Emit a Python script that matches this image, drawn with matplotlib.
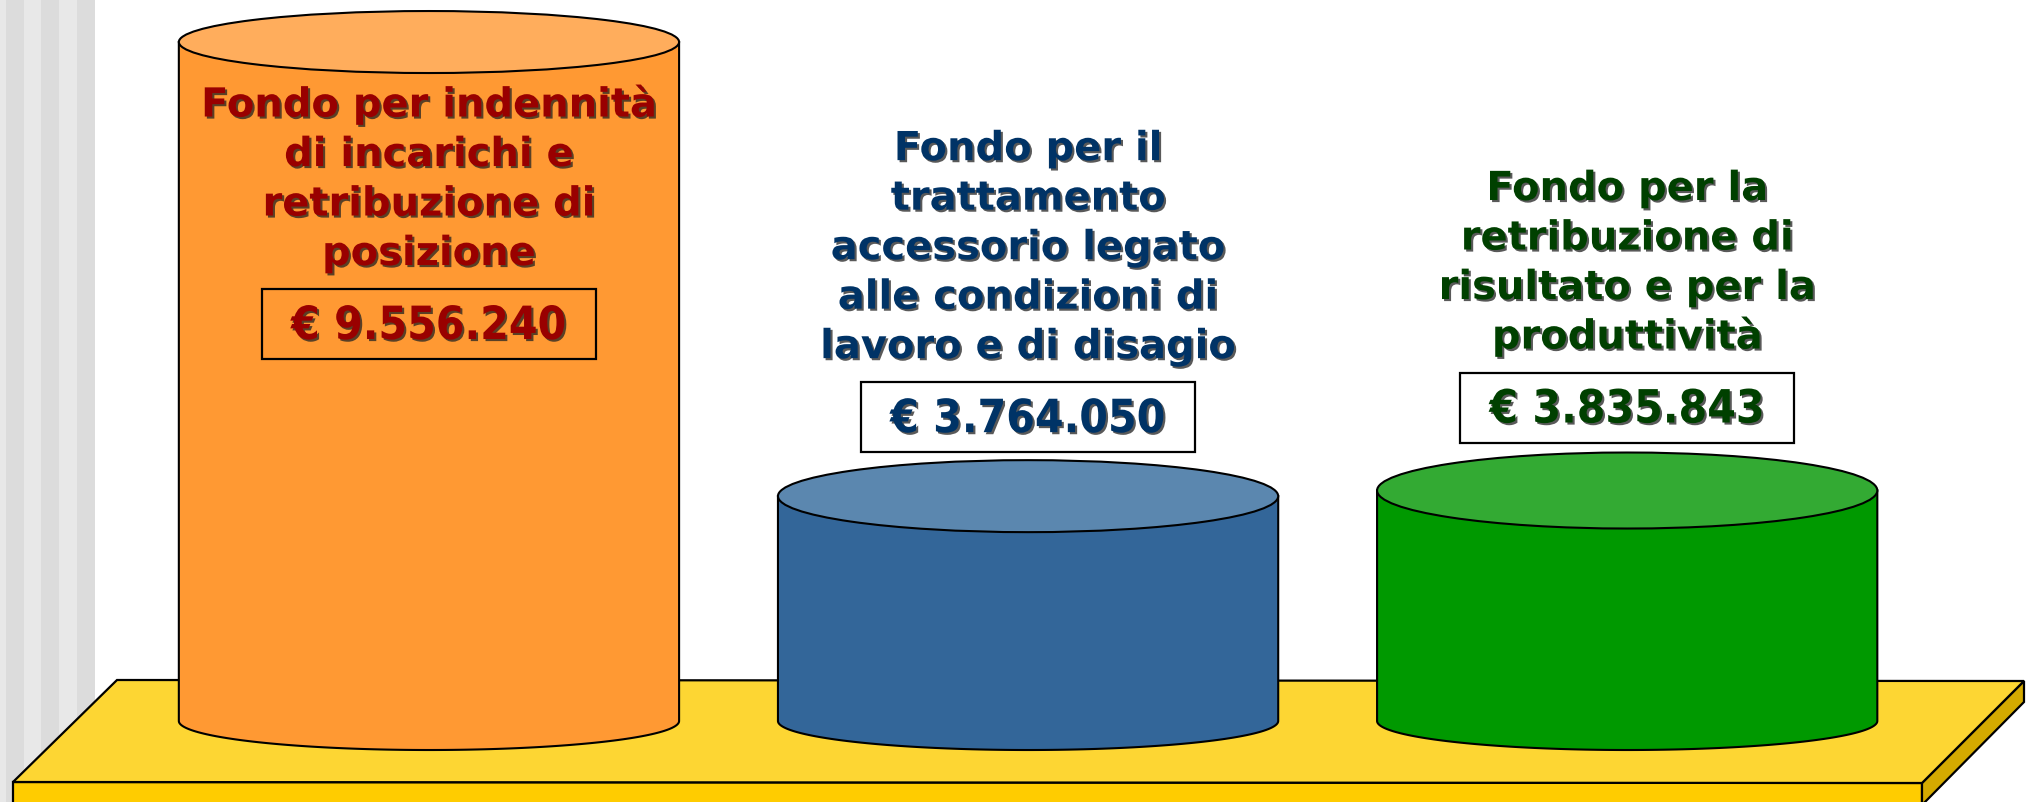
import numpy as np
import matplotlib
matplotlib.use('Agg')
import matplotlib.pyplot as plt
from matplotlib.patches import Polygon, Ellipse, Rectangle
import matplotlib.patheffects as pe

# data
labels = ['Fondo per indennità\ndi incarichi e\nretribuzione di\nposizione',
          'Fondo per il\ntrattamento\naccessorio legato\nalle condizioni di\nlavoro e di disagio',
          'Fondo per la\nretribuzione di\nrisultato e per la\nproduttività']
values = [9556240, 3764050, 3835843]

body_colors = ['#FF9933', '#336699', '#009900']
top_colors = ['#FFAD5C', '#5B87AF', '#33AA33']
text_colors = ['#990000', '#003366', '#004000']

W, H = 2031, 803
fig = plt.figure(figsize=(W / 100, H / 100), dpi=100)

# background layer in pixel coords
bg = fig.add_axes([0, 0, 1, 1])
bg.set_xlim(0, W)
bg.set_ylim(H, 0)
bg.axis('off')

bg.add_patch(Rectangle((0, 0), 94, H, color='#E8E8E8', lw=0))
for sx in [6, 41, 77]:
    bg.add_patch(Rectangle((sx, 0), 18, H, color='#DCDCDC', lw=0))

# floor slab
bg.add_patch(Polygon([(13, 783), (1922, 784), (1922, 820), (13, 820)], closed=True,
                     fc='#FFCC00', ec='black', lw=1.6))
bg.add_patch(Polygon([(1922, 784), (2024, 682), (2024, 703), (1922, 806)], closed=True,
                     fc='#D4AA00', ec='black', lw=1.6))
bg.add_patch(Polygon([(13, 783), (117, 681), (2024, 682), (1922, 784)], closed=True,
                     fc='#FDD633', ec='black', lw=1.6))

# data layer
ax = fig.add_axes([0, 0, 1, 1])
ax.set_xlim(-0.716, 2.674)
ax.set_ylim(-0.137e6, 10.105e6)
ax.axis('off')

base = 0.896e6
bar_w = 0.835
upp = (ax.get_ylim()[1] - ax.get_ylim()[0]) / H  # data units per pixel
top_hh = [31, 36, 38]
bot_hh = 29
box_dy = [-282, 79, 83]


def cylinder(x, y0, y1, body, top, hh_top):
    t = np.linspace(np.pi, 2 * np.pi, 120)
    bx = x + bar_w / 2 * np.cos(t)
    by = y0 + bot_hh * upp * np.sin(t)
    pts = [(x - bar_w / 2, y1)] + list(zip(bx, by)) + [(x + bar_w / 2, y1)]
    ax.add_patch(Polygon(pts, closed=True, fc=body, ec='black', lw=1.5, zorder=2))
    ax.add_patch(Ellipse((x, y1), bar_w, 2 * hh_top * upp, fc=top, ec='black',
                         lw=1.5, zorder=3))


shadow = [pe.SimplePatchShadow(offset=(1.5, -1.5), shadow_rgbFace='#222222', alpha=0.75),
          pe.Normal()]

for i, v in enumerate(values):
    cylinder(i, base, v, body_colors[i], top_colors[i], top_hh[i])

    dy = box_dy[i]
    txt = '€ ' + f'{v:,}'.replace(',', '.')
    ax.annotate(txt, (i, v), xytext=(0, dy - 15), textcoords='offset pixels',
                ha='center', va='baseline', fontsize=33, fontweight='bold',
                fontstretch='condensed', family='DejaVu Sans',
                color=text_colors[i], path_effects=shadow, zorder=5)

    # frame around the value
    p = ax.transData.transform((i, v))
    cx, cy = bg.transData.inverted().transform((p[0], p[1] + dy))
    ax.add_patch(Rectangle((cx - 167, cy - 35), 334, 70, fill=False, ec='black',
                           lw=1.6, zorder=6, transform=bg.transData))

    lines = labels[i].split('\n')
    n = len(lines)
    for j, line in enumerate(lines):
        ax.annotate(line, (i, v), xytext=(0, dy - 15 + 74 + 49.5 * (n - 1 - j)),
                    textcoords='offset pixels', ha='center', va='baseline',
                    fontsize=28.8, fontweight='bold', family='DejaVu Sans',
                    color=text_colors[i], path_effects=shadow, zorder=5)

fig.savefig('out.png', dpi=100)
